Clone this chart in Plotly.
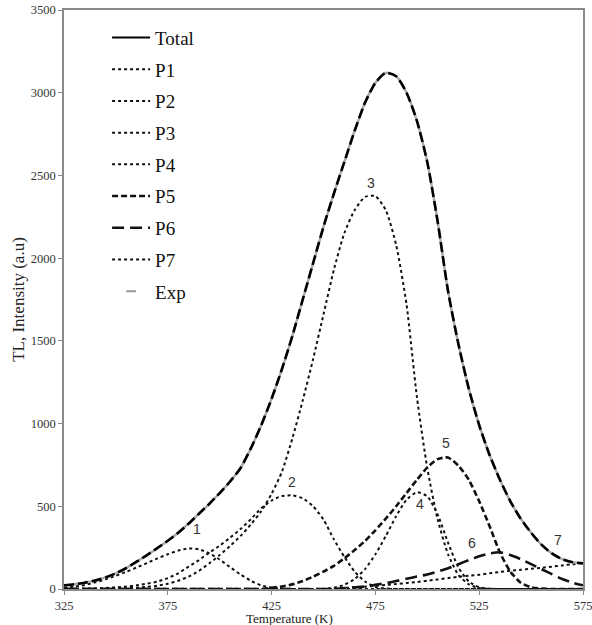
import plotly.graph_objects as go

temps = list(range(325, 580, 5))

p1 = [8, 14, 24, 40, 58, 80, 104, 130, 157, 185, 210, 232, 245, 240, 215, 178, 132, 88, 50, 22, 8, 2] + [0] * 29
p2 = [0, 1, 2, 4, 6, 10,
      15, 22, 32, 45, 66, 95, 135, 175, 220, 262, 310, 362, 422, 488, 535, 562, 566, 548, 500, 420,
      300, 195, 105, 45, 12, 3] + [0] * 19
p3 = [0, 0, 1, 1, 2, 3, 5, 8, 13, 20, 32, 50, 75, 110, 155, 205, 260, 320, 390, 470, 575,
      710, 910, 1140, 1390, 1660, 1930, 2150, 2290, 2370, 2375, 2290, 2080, 1720, 1160, 730,
      420, 210, 85, 28, 6, 1] + [0] * 9
p4 = [0] * 26 + [8, 25, 60, 120, 210, 320, 440, 540, 585, 560, 450, 280, 130, 45, 10, 2] + [0] * 9
p5 = [0] * 20 + [8, 15, 28, 48, 75, 105, 140, 185, 235, 290, 355, 425, 500, 580, 660, 735, 785,
                 795, 745, 660, 530, 380, 220, 105, 38, 10, 2] + [0] * 4
p6 = [0] * 27 + [5, 10, 15, 25, 35, 48, 62, 75, 88, 105, 125, 150, 175, 198, 215, 222, 205,
                 180, 150, 120, 90, 60, 38, 22]
p7 = [0] * 25 + [2, 4, 7, 10, 14, 19, 24, 30, 36, 42, 50, 58, 66, 74, 80, 86, 95, 103, 110,
                 116, 122, 128, 135, 142, 150, 156]
total = [22, 29, 38, 51, 70, 95, 127, 165, 205, 248, 292, 340, 395, 455, 515, 580, 650, 730,
         850, 990, 1150, 1330, 1530, 1750, 1970, 2190, 2390, 2580, 2770, 2940, 3060, 3120, 3100,
         3000, 2830, 2580, 2220, 1800, 1480, 1210, 990, 810, 660, 530, 425, 340, 268, 215, 180,
         162, 155]
exp = [22, 29, 38, 51, 70, 95, 127, 165, 205, 248, 292, 340, 395, 455, 515, 580, 650, 730,
       850, 990, 1150, 1330, 1530, 1750, 1970, 2190, 2390, 2580, 2770, 2940, 3060, 3120, 3100,
       3000, 2830, 2580, 2220, 1800, 1480, 1210, 990, 810, 660, 530, 425, 340, 268, 215, 180,
       162, 155]

peak_names = ["P1", "P2", "P3", "P4", "P5", "P6", "P7"]
peak_values = [p1, p2, p3, p4, p5, p6, p7]
peak_labels = ["1", "2", "3", "4", "5", "6", "7"]

SERIF = "Liberation Serif, Times New Roman, serif"
styles = {
    "P1": dict(dash="dot", width=2.0),
    "P2": dict(dash="dot", width=2.0),
    "P3": dict(dash="dot", width=2.0),
    "P4": dict(dash="dot", width=2.0),
    "P5": dict(dash="6px,3px", width=2.6),
    "P6": dict(dash="12px,6px", width=2.6),
    "P7": dict(dash="dot", width=2.0),
}

fig = go.Figure()

# Legend-only entry for Total (solid)
fig.add_trace(go.Scatter(x=[None], y=[None], mode="lines", name="Total",
                         line=dict(color="black", width=2), legendgroup="total"))

for name, vals in zip(peak_names, peak_values):
    st = styles[name]
    fig.add_trace(go.Scatter(x=temps, y=vals, mode="lines", name=name, legendgroup=name,
                             line=dict(color="#111", width=st["width"], dash=st["dash"],
                                       shape="spline", smoothing=0.6)))

# Legend-only entry for Exp (small dash marker)
fig.add_trace(go.Scatter(x=[None], y=[None], mode="markers", name="Exp", legendgroup="exp",
                         marker=dict(symbol="line-ew", size=7, color="#9a9a9a",
                                     line=dict(color="#9a9a9a", width=2))))

# Experimental data: grey line under the fitted total
fig.add_trace(go.Scatter(x=temps, y=exp, mode="lines", name="Exp", showlegend=False,
                         legendgroup="exp",
                         line=dict(color="#a8a8a8", width=2.4, shape="spline", smoothing=0.6)))

fig.add_trace(go.Scatter(x=temps, y=total, mode="lines", name="Total", showlegend=False,
                         legendgroup="total",
                         line=dict(color="black", width=2.6, dash="10px,4px",
                                   shape="spline", smoothing=0.6)))

label_offsets = [(8, 19), (0, 13), (-4, 13), (3, -12), (-2, 14), (-28, 9), (-25, 23)]
for lab, vals, (dx, dy), name in zip(peak_labels, peak_values, label_offsets, peak_names):
    if name == "P7":
        idx = len(vals) - 1
    else:
        idx = max(range(len(vals)), key=lambda i: vals[i])
    fig.add_annotation(x=temps[idx], y=vals[idx], text=lab, showarrow=False,
                       xshift=dx, yshift=dy, yanchor="middle",
                       font=dict(family="Liberation Sans, Arial, sans-serif", size=14, color="#333"))

fig.add_annotation(x=0.434, y=0, xref="paper", yref="paper", yshift=-29, yanchor="middle",
                   text="Temperature (K)", showarrow=False,
                   font=dict(family=SERIF, size=13, color="#222"))

axis_common = dict(showgrid=False, zeroline=False, showline=True, linecolor="#8a8a8a",
                   linewidth=1.5, mirror=True, ticks="outside", ticklen=4, tickcolor="#8a8a8a",
                   automargin=False, ticklabeloverflow="allow",
                   tickfont=dict(family=SERIF, size=12.5, color="#333"))

fig.update_layout(
    width=592, height=625,
    margin=dict(l=64, r=9, t=10, b=36),
    paper_bgcolor="white", plot_bgcolor="white",
    showlegend=True,
    legend=dict(x=0.083, y=0.985, xanchor="left", yanchor="top",
                font=dict(family=SERIF, size=19, color="#111"),
                bgcolor="rgba(0,0,0,0)", tracegroupgap=4, itemwidth=38),
    xaxis=dict(range=[325, 575], tickvals=[325, 375, 425, 475, 525, 575], **axis_common),
    yaxis=dict(range=[0, 3500], dtick=500,
               title=dict(text="TL, Intensity (a.u)", font=dict(family=SERIF, size=17, color="#222"),
                          standoff=2),
               **axis_common),
)

fig.write_html("out.html", config={"displayModeBar": False},
               post_script="document.body.style.margin='0';document.body.style.padding='0';")
